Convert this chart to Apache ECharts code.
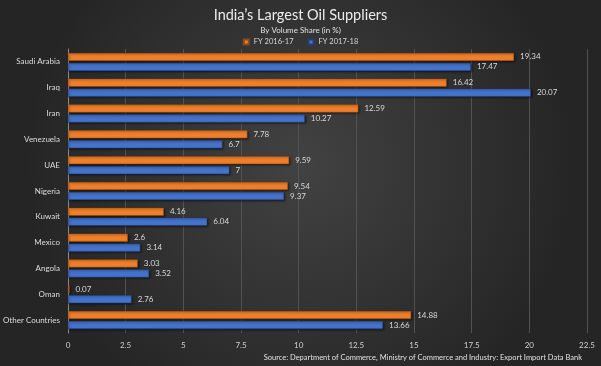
<!DOCTYPE html>
<html><head><meta charset="utf-8">
<script src="https://cdn.jsdelivr.net/npm/echarts@6/dist/echarts.min.js"></script>
<style>html,body{margin:0;padding:0;background:#2e2e2e}#c{width:601px;height:366px}</style>
</head><body><div id="c"></div>
<script>
const categories = ["Saudi Arabia","Iraq","Iran","Venezuela","UAE","Nigeria","Kuwait","Mexico","Angola","Oman","Other Countries"];
const fy1617 = [19.34,16.42,12.59,7.78,9.59,9.54,4.16,2.6,3.03,0.07,14.88];
const fy1718 = [17.47,20.07,10.27,6.7,7,9.37,6.04,3.14,3.52,2.76,13.66];
const xTicks = [0,2.5,5,7.5,10,12.5,15,17.5,20,22.5];

const font = 'Lato, "Open Sans", sans-serif';
const chart = echarts.init(document.getElementById('c'));
const lbl = {show:true, position:'right', distance:6, color:'#d8d8d8', fontSize:8, fontFamily:font};
chart.setOption({
  backgroundColor: {type:'radial', x:0.5, y:0.45, r:0.75, colorStops:[{offset:0,color:'#424242'},{offset:1,color:'#252525'}]},
  animation:false,
  title:[
    {text:"India’s Largest Oil Suppliers", left:'center', top:3, textStyle:{color:'#ececec', fontSize:14.5, fontWeight:'normal', fontFamily:font}},
    {text:"By Volume Share (in %)", left:'center', top:21, textStyle:{color:'#e0e0e0', fontSize:8, fontWeight:'normal', fontFamily:font}},
    {text:"Source: Department of Commerce, Ministry of Commerce and Industry: Export Import Data Bank", right:14, top:349, textStyle:{color:'#e0e0e0', fontSize:7.5, fontWeight:'normal', fontFamily:font}}
  ],
  legend:{top:33, left:'center', itemWidth:5, itemHeight:5, itemGap:14, icon:'rect',
    textStyle:{color:'#d8d8d8', fontSize:7.5, fontFamily:font}, data:['FY 2016-17','FY 2017-18']},
  grid:{left:63, right:14, top:49, bottom:33, containLabel:false},
  xAxis:{type:'value', min:0, max:22.5, interval:2.5,
    axisLine:{show:false}, axisTick:{show:false},
    splitLine:{lineStyle:{color:'#525252', width:1}},
    axisLabel:{color:'#d0d0d0', fontSize:8, fontFamily:font, margin:8,
      formatter: v => { const t = xTicks.find(x => Math.abs(x-v)<1e-6); return t===undefined?'':String(t); }}},
  yAxis:{type:'category', data:categories, inverse:true,
    axisLine:{show:true, lineStyle:{color:'#8a8a8a'}}, axisTick:{show:false},
    axisLabel:{color:'#dcdcdc', fontSize:8, fontFamily:font, margin:8}},
  series:[
    {name:'FY 2016-17', type:'bar', data:fy1617, barWidth:8, barGap:'25%',
      itemStyle:{color:'#F07E2A', borderColor:'#8a4a1a', borderWidth:0.5, shadowColor:'rgba(0,0,0,0.6)', shadowBlur:2, shadowOffsetX:1, shadowOffsetY:1}, label:lbl},
    {name:'FY 2017-18', type:'bar', data:fy1718, barWidth:8,
      itemStyle:{color:'#4473CC', borderColor:'#263f73', borderWidth:0.5, shadowColor:'rgba(0,0,0,0.6)', shadowBlur:2, shadowOffsetX:1, shadowOffsetY:1}, label:lbl}
  ]
});
</script></body></html>
